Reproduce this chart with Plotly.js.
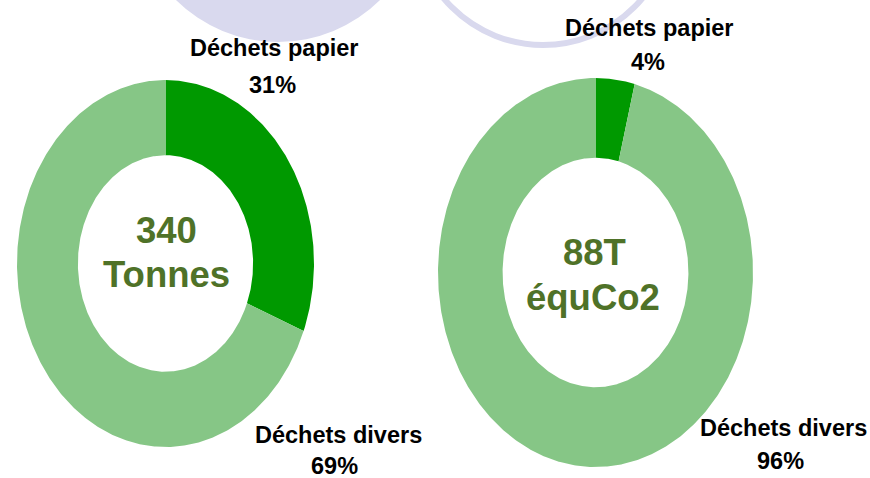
<!DOCTYPE html>
<html>
<head>
<meta charset="utf-8">
<script src="https://cdn.plot.ly/plotly-3.0.1.min.js"></script>
<style>html,body{margin:0;padding:0;background:#fff;}#chart{width:870px;height:478px;}</style>
</head>
<body>
<div id="chart"></div>
<script>
// ---- data ----
const categories = ["Déchets papier", "Déchets divers"];
const tonnesValues = [31, 69];      // % of 340 tonnes
const co2Values = [4, 96];          // % of 88 T équCo2
const tonnesCenter = ["340", "Tonnes"];
const co2Center = ["88T", "équCo2"];
const sliceColors = ["#009900", "#86C686"];

// ---- layout helpers ----
const W = 870, H = 478;
const px = x => x / W;
const py = y => 1 - y / H;
const HOLE = 0.59;

function donutTraces(values, xa, ya) {
  const total = values.reduce((a, b) => a + b, 0);
  let start = 0;
  const traces = [];
  values.forEach((v, i) => {
    const a0 = start / total * 2 * Math.PI;
    const a1 = (start + v) / total * 2 * Math.PI;
    const n = Math.max(4, Math.ceil((a1 - a0) / 0.01));
    const xs = [], ys = [];
    for (let k = 0; k <= n; k++) {
      const t = a0 + (a1 - a0) * k / n;
      xs.push(Math.sin(t)); ys.push(Math.cos(t));
    }
    for (let k = n; k >= 0; k--) {
      const t = a0 + (a1 - a0) * k / n;
      xs.push(HOLE * Math.sin(t)); ys.push(HOLE * Math.cos(t));
    }
    traces.push({
      type: "scatter", mode: "lines", x: xs, y: ys, fill: "toself",
      fillcolor: sliceColors[i], line: {width: 0, color: sliceColors[i]},
      xaxis: xa, yaxis: ya, hoverinfo: "skip", showlegend: false
    });
    start += v;
  });
  return traces;
}

const data = [
  ...donutTraces(tonnesValues, "x", "y"),
  ...donutTraces(co2Values, "x2", "y2")
];

const hidden = {range: [-1, 1], visible: false, fixedrange: true};
const labelFont = {family: "Liberation Sans, Arial, sans-serif", size: 23.5, color: "#000000", weight: "bold"};
const centerFont = {family: "Liberation Sans, Arial, sans-serif", size: 36.5, color: "#4F7228", weight: "bold"};

function pct(values, i) {
  const total = values.reduce((a, b) => a + b, 0);
  return Math.round(values[i] / total * 100) + "%";
}

const base = {xref: "paper", yref: "paper", showarrow: false, xanchor: "center", yanchor: "middle", align: "center"};
const annotations = [
  {x: px(274), y: py(48), text: "<b>" + categories[0] + "</b>", font: labelFont},
  {x: px(272), y: py(85), text: "<b>" + pct(tonnesValues, 0) + "</b>", font: labelFont},
  {x: px(338), y: py(435), text: "<b>" + categories[1] + "</b>", font: labelFont},
  {x: px(334), y: py(466), text: "<b>" + pct(tonnesValues, 1) + "</b>", font: labelFont},
  {x: px(649), y: py(28), text: "<b>" + categories[0] + "</b>", font: labelFont},
  {x: px(648), y: py(62), text: "<b>" + pct(co2Values, 0) + "</b>", font: labelFont},
  {x: px(783), y: py(428), text: "<b>" + categories[1] + "</b>", font: labelFont},
  {x: px(780), y: py(461), text: "<b>" + pct(co2Values, 1) + "</b>", font: labelFont},
  {x: px(166), y: py(230), text: "<b>" + tonnesCenter[0] + "</b>", font: centerFont},
  {x: px(166), y: py(274), text: "<b>" + tonnesCenter[1] + "</b>", font: centerFont},
  {x: px(594), y: py(252), text: "<b>" + co2Center[0] + "</b>", font: centerFont},
  {x: px(593), y: py(297), text: "<b>" + co2Center[1] + "</b>", font: centerFont}
].map(a => Object.assign({}, base, a));

const layout = {
  width: W, height: H,
  margin: {l: 0, r: 0, t: 0, b: 0},
  paper_bgcolor: "#ffffff", plot_bgcolor: "rgba(0,0,0,0)",
  showlegend: false,
  xaxis: Object.assign({domain: [px(17), px(314)], anchor: "y"}, hidden),
  yaxis: Object.assign({domain: [py(447), py(80)], anchor: "x"}, hidden),
  xaxis2: Object.assign({domain: [px(438), px(753)], anchor: "y2"}, hidden),
  yaxis2: Object.assign({domain: [py(467), py(78)], anchor: "x2"}, hidden),
  shapes: [
    {type: "circle", xref: "paper", yref: "paper", layer: "below",
     x0: px(133), x1: px(423), y0: py(42), y1: py(-248),
     fillcolor: "#D9D9EE", line: {width: 0}},
    {type: "circle", xref: "paper", yref: "paper", layer: "below",
     x0: px(414), x1: px(672), y0: py(45), y1: py(-213),
     fillcolor: "rgba(0,0,0,0)", line: {width: 6, color: "#D9D9EE"}}
  ],
  annotations: annotations
};

Plotly.newPlot("chart", data, layout, {staticPlot: true, displayModeBar: false});
</script>
</body>
</html>
